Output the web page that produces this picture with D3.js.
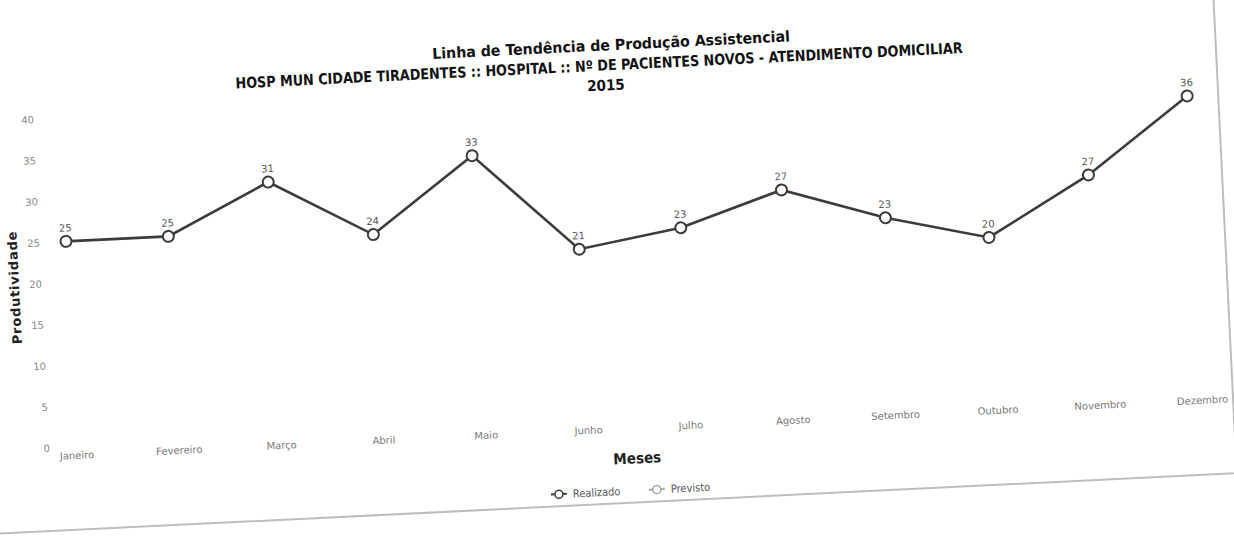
<!DOCTYPE html>
<html>
<script src='https://d3js.org/d3.v7.min.js'></script>
<style>
  body { margin: 0; background: #fff; }
  svg { display: block; }
</style>
<body>
<svg width=1234 height=543></svg>
<script>
var months = ["Janeiro","Fevereiro","Março","Abril","Maio","Junho","Julho","Agosto","Setembro","Outubro","Novembro","Dezembro"]
var realizado = [25,25,31,24,33,21,23,27,23,20,27,36]
var yTicks = [0,5,10,15,20,25,30,35,40]
var titles = ["Linha de Tendência de Produção Assistencial",
  "HOSP MUN CIDADE TIRADENTES :: HOSPITAL :: Nº DE PACIENTES NOVOS - ATENDIMENTO DOMICILIAR",
  "2015"]
var legendItems = ["Realizado","Previsto"]

var svg = d3.select("svg")

// the scanned sheet is tilted a little, so everything sits in one rotated group
var g = svg.append("g").attr("transform", "rotate(-2.8, 66, 242)")

// paper edge
g.append("rect")
  .attr("x", -200).attr("y", -200)
  .attr("width", 1424).attr("height", 730)
  .style("fill", "none").style("stroke", "#bdbdbd").style("stroke-width", 2)

var x = d3.scalePoint().domain(months).range([66, 1193])
var y = d3.scaleLinear().domain([0, 40]).range([447, 118])

// titles (condensed bold in the original, squeezed to its widths)
var tl = g.append("g").attr("text-anchor", "middle")
  .style("font-family", "'DejaVu Sans Condensed', 'DejaVu Sans', sans-serif")
  .style("font-weight", "bold").style("fill", "#111").style("font-size", "15px")
tl.append("text").attr("x", 620).attr("y", 77)
  .attr("textLength", 358).attr("lengthAdjust", "spacingAndGlyphs").text(titles[0])
tl.append("text").attr("x", 607).attr("y", 97)
  .attr("textLength", 728).attr("lengthAdjust", "spacingAndGlyphs").text(titles[1])
tl.append("text").attr("x", 613).attr("y", 117).text(titles[2])

// y axis labels only
var yAxis = d3.axisLeft(y).tickValues(yTicks).tickSize(0).tickPadding(0)
g.append("g")
  .attr("transform", "translate(40,0)")
  .call(yAxis)
  .call(function(s) { s.select(".domain").remove() })
  .selectAll("text")
    .style("font-family", "'DejaVu Sans', sans-serif")
    .style("font-size", "10px")
    .style("fill", "#8a8a8a")

// x axis labels
var xAxis = d3.axisBottom(x).tickSize(0).tickPadding(0)
g.append("g")
  .attr("transform", "translate(0,452)")
  .call(xAxis)
  .call(function(s) { s.select(".domain").remove() })
  .selectAll("text")
    .style("font-family", "'DejaVu Sans', sans-serif")
    .style("font-size", "10px")
    .style("fill", "#7a7a7a")

// axis titles
g.append("text")
  .attr("text-anchor", "middle")
  .attr("x", 626).attr("y", 491)
  .style("font-family", "'DejaVu Sans Condensed', sans-serif")
  .style("font-weight", "bold").style("font-size", "15px").style("fill", "#222")
  .text("Meses")

g.append("text")
  .attr("text-anchor", "middle")
  .attr("transform", "translate(17,285) rotate(-90)")
  .style("font-family", "'DejaVu Sans', sans-serif")
  .style("font-weight", "bold").style("font-size", "13px").style("fill", "#222")
  .style("letter-spacing", "0.8px")
  .text("Produtividade")

// line
var line = d3.line()
  .x(function(d, i) { return x(months[i]) })
  .y(function(d) { return y(d) })

g.append("path")
  .datum(realizado)
  .attr("d", line)
  .style("fill", "none")
  .style("stroke", "#3c3c3c")
  .style("stroke-width", 2.6)

g.selectAll("circle.pt")
  .data(realizado)
  .enter()
  .append("circle")
    .attr("class", "pt")
    .attr("cx", function(d, i) { return x(months[i]) })
    .attr("cy", function(d) { return y(d) })
    .attr("r", 5.5)
    .style("fill", "#fff")
    .style("stroke", "#3c3c3c")
    .style("stroke-width", 2)

g.selectAll("text.val")
  .data(realizado)
  .enter()
  .append("text")
    .attr("class", "val")
    .attr("text-anchor", "middle")
    .attr("x", function(d, i) { return x(months[i]) })
    .attr("y", function(d) { return y(d) - 10 })
    .style("font-family", "'DejaVu Sans', sans-serif")
    .style("font-size", "10px")
    .style("fill", "#555")
    .text(function(d) { return d })

// legend
var lg = g.append("g").attr("transform", "translate(538,518)")
var lgColors = ["#3c3c3c", "#a8a8a8"]
var lgX = [0, 98]
legendItems.forEach(function(name, i) {
  var item = lg.append("g").attr("transform", "translate(" + lgX[i] + ",0)")
  item.append("line").attr("x1", 0).attr("x2", 16).attr("y1", 0).attr("y2", 0)
    .style("stroke", lgColors[i]).style("stroke-width", 2)
  item.append("circle").attr("cx", 8).attr("cy", 0).attr("r", 4)
    .style("fill", "#fff").style("stroke", lgColors[i]).style("stroke-width", 1.5)
  item.append("text").attr("x", 22).attr("y", 4)
    .style("font-family", "'DejaVu Sans Condensed', sans-serif")
    .style("font-size", "11px").style("fill", "#555")
    .text(name)
})
</script>
</body>
</html>
